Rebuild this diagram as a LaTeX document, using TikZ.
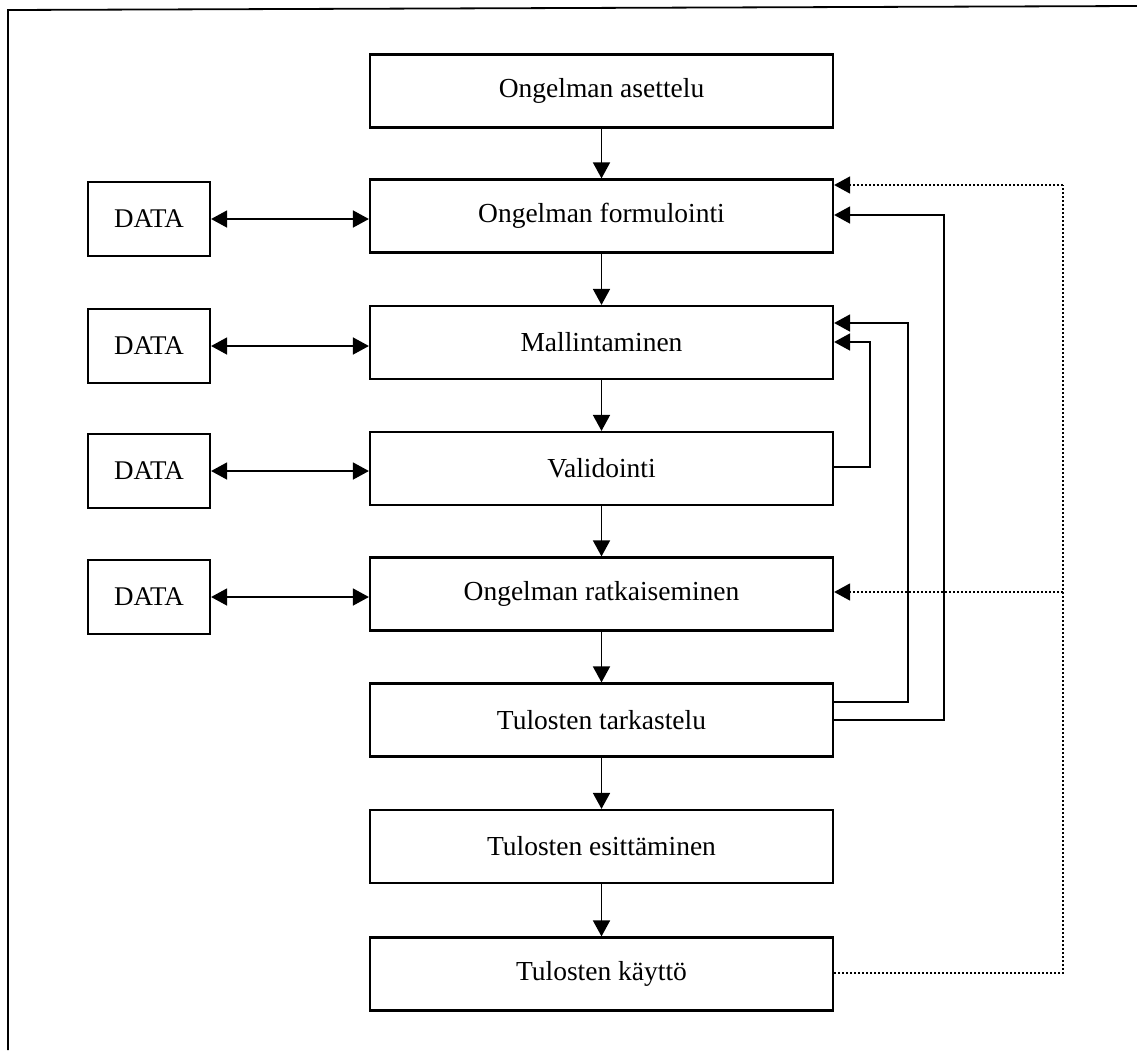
\documentclass[tikz,border=0pt]{standalone}
\usepackage{fontspec}
\setmainfont{Liberation Serif}
\usetikzlibrary{arrows.meta}
\begin{document}
\begin{tikzpicture}[x=1pt,y=-1pt,
  mainbox/.style={draw,line width=2.2pt,minimum width=463pt,minimum height=73pt,inner sep=0pt,font=\fontsize{27.5}{30}\selectfont},
  databox/.style={draw,line width=2.2pt,minimum width=122pt,minimum height=74pt,inner sep=0pt,font=\fontsize{27}{30}\selectfont},
  tip/.style={-{Triangle[width=17pt,length=16pt]}},
  dtip/.style={{Triangle[width=17pt,length=16pt]}-{Triangle[width=17pt,length=16pt]}},
  conn/.style={line width=1.7pt},
  dotconn/.style={line width=1.6pt,dash pattern=on 2pt off 2pt}]
\path[use as bounding box] (0,0) rectangle (1137,1050);
\draw[line width=1.8pt] (8,1050) -- (8,10) -- (1137,6);

\node[mainbox] (b1) at (601.5,91) {Ongelman asettelu};
\node[mainbox] (b2) at (601.5,216) {Ongelman formulointi};
\node[mainbox] (b3) at (601.5,342.5) {Mallintaminen};
\node[mainbox] (b4) at (601.5,468.5) {Validointi};
\node[mainbox] (b5) at (601.5,594) {Ongelman ratkaiseminen};
\node[mainbox] (b6) at (601.5,720) {Tulosten tarkastelu};
\node[mainbox] (b7) at (601.5,846.5) {Tulosten esittäminen};
\node[mainbox] (b8) at (601.5,974) {Tulosten käyttö};

\node[databox] (d2) at (149,219) {DATA};
\node[databox] (d3) at (149,346) {DATA};
\node[databox] (d4) at (149,471) {DATA};
\node[databox] (d5) at (149,597) {DATA};

\foreach \a/\b in {b1/b2,b2/b3,b3/b4,b4/b5,b5/b6,b6/b7,b7/b8}
  \draw[conn,tip] (\a.south) -- (\b.north);

\draw[conn,dtip] (d2.east) -- (b2.west |- d2.east);
\draw[conn,dtip] (d3.east) -- (b3.west |- d3.east);
\draw[conn,dtip] (d4.east) -- (b4.west |- d4.east);
\draw[conn,dtip] (d5.east) -- (b5.west |- d5.east);

% feedback from Validointi to Mallintaminen
\coordinate (v1) at (870,467);
\coordinate (v2) at (870,342);
\draw[conn,tip] (b4.east |- v1) -- (v1) -- (v2) -- (b3.east |- v2);

% feedback from Tulosten tarkastelu
\coordinate (t1) at (908,702);
\coordinate (t2) at (908,323);
\draw[conn,tip] (b6.east |- t1) -- (t1) -- (t2) -- (b3.east |- t2);
\coordinate (s1) at (944,720);
\coordinate (s2) at (944,215);
\draw[conn,tip] (b6.east |- s1) -- (s1) -- (s2) -- (b2.east |- s2);

% dotted feedback from Tulosten kaytto
\coordinate (k1) at (1063,973);
\coordinate (k2) at (1063,185);
\coordinate (k3) at (1063,592);
\draw[dotconn] (b8.east |- k1) -- (k1) -- (k2);
\draw[dotconn,tip] (k2) -- (b2.east |- k2);
\draw[dotconn,tip] (k3) -- (b5.east |- k3);
\end{tikzpicture}
\end{document}
